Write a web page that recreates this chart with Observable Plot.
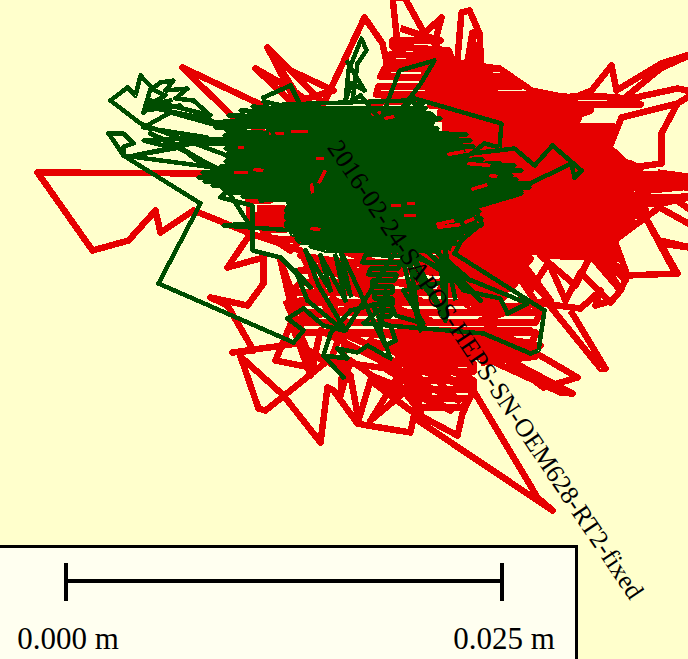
<!DOCTYPE html>
<html><head><meta charset="utf-8">
<script src="https://cdn.jsdelivr.net/npm/d3@7"></script>
<script src="https://cdn.jsdelivr.net/npm/@observablehq/plot@0.6"></script>
<style>html,body{margin:0;padding:0;background:#ffffcc;overflow:hidden}svg{display:block}</style>
</head><body><div id="chart"></div>
<script>
// Track positions in plot units (17440 units = 1 metre)
const redSpikes=[[210,173],[37,172],[92,250],[128,240],[155,210],[160,232],[193,210],[250,233],[227,267],[263,257],[263,283],[247,305],[210,297],[227,305],[253,350],[232,352],[297,343],[325,362],[265,410],[258,408],[240,356],[283,395],[320,442],[327,387],[333,390],[357,423],[367,425],[410,432],[413,417],[552,510],[537,497],[473,390],[462,413],[457,435],[410,410],[370,380],[358,420],[350,375],[300,345],[280,260],[297,307],[330,280],[340,340],[300,250],[250,233],[248,200],[270,200],[300,150],[233,117],[182,67],[258,103],[300,130],[320,100],[267,47],[300,100],[333,90],[290,70],[267,47],[300,110],[255,68],[290,88],[320,110],[364,17],[382,43],[388,70],[397,43],[392,-3],[404,-3],[424,33],[441,17],[434,43],[456,70],[461,12],[469,10],[479,33],[481,70],[475,70],[472,32],[465,72],[499,68],[531,90],[571,98],[591,90],[611,65],[616,90],[661,63],[695,52],[660,68],[621,100],[677,88],[695,92],[677,103],[661,133],[661,163],[631,167],[609,147],[621,117],[677,103]];
const redEast=[[657,172],[695,177],[695,183],[640,178],[695,189],[695,195],[672,197],[695,213],[695,227],[659,207],[645,217],[614,240],[627,275],[677,273],[645,217],[675,273],[659,240],[695,248],[660,243]];
const redTop=[[400,28],[425,36],[440,40],[392,40],[392,46],[448,50],[450,56],[390,54],[386,62],[456,62],[495,68],[384,68],[380,76],[515,80],[520,86],[378,86],[376,94],[545,94],[370,102],[420,100]];
const redUpper=[[420,74],[505,76],[520,84],[425,84],[430,91],[565,96],[575,102],[430,98],[420,99],[600,96],[625,98],[640,104],[430,105],[590,110],[582,113],[440,112],[440,118],[578,118],[575,122],[445,124],[445,128],[612,126],[612,132],[450,132],[450,138],[610,138],[609,145],[450,144],[455,150],[615,152],[620,158],[460,156],[465,162],[630,163],[640,168],[470,168],[470,174],[655,174],[688,180],[470,180],[475,186],[688,186],[634,191],[480,192],[480,198],[688,197],[660,203],[480,204],[480,210],[645,209],[640,215],[470,216],[470,222],[632,221],[625,227],[465,228],[465,234],[618,233],[614,239],[460,240],[455,246],[613,245],[616,251],[450,252],[448,258],[530,258],[525,264],[445,264],[445,270],[520,270],[518,276],[445,276],[440,282],[515,282],[510,288],[440,288],[445,294],[505,294],[500,300],[460,300],[470,306],[520,306]];
const redSouthEast=[[520,250],[616,250],[618,258],[540,255],[575,285],[590,255],[620,290],[600,255],[625,280],[612,262],[627,275],[620,290],[610,302],[580,272],[565,300],[548,262],[530,290],[522,262],[550,300],[508,262],[540,308],[520,300],[580,308],[600,290],[595,305],[612,300]];
const redSquare=[[256,208],[283,208],[283,215],[256,215],[256,222],[283,222],[285,229],[262,229],[270,238],[300,240],[290,250],[275,240]];
const redBlock=[[405,335],[473,335],[473,342],[400,342],[400,349],[473,349],[473,356],[398,356],[395,363],[473,363],[473,371],[395,371],[400,380],[473,380],[473,389],[405,389],[412,398],[468,398],[462,407],[418,407]];
const redMid=[[345,250],[470,250],[470,262],[350,262],[300,270],[470,272],[470,282],[300,282],[290,292],[465,292],[465,302],[292,302],[300,312],[540,312],[535,322],[300,322],[300,332],[535,332],[532,342],[340,332],[370,345],[525,352],[470,345],[470,356],[535,356],[480,362]];
const redLower=[[570,310],[605,368],[600,368],[545,300],[480,320],[577,377],[543,387],[500,355],[572,393],[560,392],[490,360],[470,350],[540,345],[470,340],[530,330],[440,330],[470,356],[400,325],[473,366],[395,335],[470,378],[370,340],[470,388],[365,350],[400,345],[458,400],[380,365],[450,410],[370,375],[430,398],[410,360],[420,412],[395,380],[370,420],[400,395],[350,360],[340,395],[345,320],[330,360],[400,370],[320,330],[310,375],[290,320],[340,310],[400,310],[330,300],[430,320],[320,280],[420,300],[310,265],[410,285],[300,255],[400,270],[310,240],[450,260],[300,300],[275,360],[315,368],[285,300]];
const greenOuter=[[240,160],[140,123],[110,100],[127,87],[135,95],[140,75],[152,88],[160,82],[173,80],[165,90],[187,88],[175,98],[193,100],[210,115],[150,100],[143,112],[150,88],[165,95],[147,105],[170,100],[145,110],[180,105],[155,108],[205,118],[235,130],[170,112],[143,127],[207,137],[143,140],[163,145],[207,140],[133,155],[180,147],[200,163],[225,172],[150,133],[173,143],[213,167],[123,155],[113,140],[108,133],[123,133],[133,143],[123,146],[123,155],[200,203],[158,283],[293,342],[303,330],[287,318],[303,308],[323,325],[343,330],[307,300],[295,270],[310,287],[280,257],[252,250],[252,205],[220,197],[227,190],[248,223],[223,225],[293,230],[290,200],[263,97],[290,85],[300,105],[320,125]];
const greenEast=[[346,60],[364,90],[351,83],[345,100],[348,70],[361,38],[366,50],[357,63],[352,100],[360,95],[380,120],[399,70],[434,60],[421,82],[400,110],[414,98],[501,123],[499,147],[484,143],[471,153],[514,148],[534,165],[552,145],[581,170],[574,177],[571,163],[521,187],[480,200],[521,193],[474,207],[481,223],[461,240],[454,253],[544,310],[538,350],[530,353],[483,333],[363,323],[390,300],[350,310],[330,333],[323,355],[343,377],[323,355],[347,358],[337,348],[357,352],[367,345],[390,358],[380,330],[385,290],[395,315],[423,323],[403,290],[464,277],[527,303],[507,313],[500,298],[463,290],[440,260],[445,320]];
const greenCore=[[282,104],[408,100],[425,108],[270,108],[262,113],[430,113],[436,118],[268,118],[270,122],[432,122],[430,126],[270,126],[268,130],[434,130],[440,134],[265,134],[262,138],[445,138],[448,142],[265,142],[268,146],[450,146],[448,150],[270,150],[270,154],[450,154],[455,158],[268,158],[265,162],[460,162],[470,166],[262,166],[258,170],[475,170],[475,174],[255,174],[258,178],[478,178],[480,182],[262,182],[268,186],[480,186],[478,190],[272,190],[278,194],[475,194],[470,198],[285,198],[288,202],[465,202],[468,206],[288,206],[286,210],[470,210],[472,214],[286,214],[286,218],[474,218],[474,222],[286,222],[286,226],[472,226],[466,230],[290,230],[292,234],[458,234],[454,238],[296,238],[300,242],[448,242],[446,246],[310,246],[325,250],[440,250]];
const greenFanWest=[[300,118],[205,122],[290,126],[215,127],[290,122],[228,115],[295,116],[240,110],[300,112],[252,106],[305,110],[263,101],[310,112],[226,130],[290,134],[224,135],[290,138],[210,139],[290,142],[205,143],[290,146],[225,148],[290,150],[228,152],[290,154],[226,156],[290,158],[225,161],[290,162],[220,166],[290,166],[212,169],[290,170],[202,172],[290,174],[198,177],[290,178],[204,181],[290,182],[212,185],[290,186],[222,188],[290,190],[228,192],[295,194],[242,196],[300,198],[258,200]];
const greenFanEast=[[405,112],[424,101],[410,116],[440,118],[415,124],[437,128],[420,132],[466,134],[425,138],[470,140],[430,144],[473,146],[430,150],[463,151],[435,156],[468,155],[440,160],[482,159],[440,164],[500,163],[445,166],[514,165],[445,170],[521,170],[445,174],[511,175],[450,178],[516,179],[450,182],[531,183],[450,186],[529,187],[450,190],[521,191],[450,194],[506,196],[445,198],[490,200],[445,204],[476,204],[445,210],[479,211],[445,216],[481,218],[445,222],[481,225],[440,228],[471,231],[440,234],[463,237],[435,240],[456,243],[430,246],[451,248]];
const greenSouth=[[375,250],[405,250],[405,256],[365,254],[362,262],[400,262],[398,268],[370,268],[368,274],[396,274],[394,280],[372,280],[372,286],[392,286],[392,292],[374,292],[374,298],[392,298],[392,304],[372,304],[375,310],[392,310],[390,316],[378,316],[380,322],[390,325],[395,340],[385,345],[375,325],[340,250],[350,295],[335,255],[345,300],[320,255],[330,290],[305,250],[318,285],[345,330],[397,248],[443,313],[410,250],[470,290],[425,250],[480,300],[435,250],[470,280],[400,250],[420,330],[408,250],[445,320],[445,250],[455,300]];
const redFlecks=[[[268,133],[283,133]],[[290,131],[307,131]],[[315,158],[323,158]],[[325,170],[318,183]],[[311,183],[312,193]],[[233,172],[247,172]],[[253,169],[263,170]],[[237,147],[243,147]],[[447,154],[464,151]],[[467,163],[490,165]],[[489,175],[497,176]],[[471,189],[487,184]],[[436,224],[454,220]],[[464,222],[474,218]],[[406,203],[414,203]],[[371,114],[381,112]],[[384,118],[394,116]],[[403,215],[415,215]],[[437,227],[460,224]],[[390,205],[400,205]],[[310,228],[320,229]]];
// Scale bar, in metres
const scaleStart=0, scaleEnd=0.025;
const unitsPerMetre=17440, barOrigin=65.5;
const label="2016-02-24-SAPOS-HEPS-SN-OEM628-RT2-fixed";
const bx=m=>barOrigin+m*unitsPerMetre;
const red="#e60000",green="#004d00";
const line=(a,c,w)=>Plot.line(a,{x:d=>d[0],y:d=>d[1],stroke:c,strokeWidth:w,strokeLinejoin:"round",strokeLinecap:"butt",shapeRendering:"crispEdges"});
const plot=Plot.plot({width:688,height:659,margin:0,
 x:{domain:[0,688],range:[0,688],axis:null},y:{domain:[0,659],range:[0,659],axis:null},
 style:{background:"#ffffcc"},
 marks:[
  line(redSpikes,red,6.5),line(redEast,red,6.5),line(redTop,red,7),line(redUpper,red,7),line(redSouthEast,red,6.5),line(redSquare,red,7),line(redMid,red,7),line(redBlock,red,6.5),line(redLower,red,6.5),
  line(greenCore,green,4.5),line(greenFanWest,green,4.5),line(greenFanEast,green,4.5),line(greenSouth,green,4.5),
  ...redFlecks.map(f=>line(f,red,3.5)),
  line(greenOuter,green,4.5),line(greenEast,green,4.5),
  Plot.text([label],{x:()=>326,y:()=>147,text:d=>d,rotate:56.2,textAnchor:"start",lineAnchor:"bottom",fontFamily:"Liberation Serif",fontSize:26,fill:"#000"}),
  Plot.rect([0],{x1:()=>-3,x2:()=>576.5,y1:()=>546.5,y2:()=>665,fill:"#fffff0",stroke:"#000",strokeWidth:3,shapeRendering:"crispEdges"}),
  Plot.ruleY([580.5],{x1:()=>bx(scaleStart),x2:()=>bx(scaleEnd),stroke:"#000",strokeWidth:4,shapeRendering:"crispEdges"}),
  Plot.ruleX([scaleStart,scaleEnd],{x:bx,y1:()=>563,y2:()=>601,stroke:"#000",strokeWidth:4,shapeRendering:"crispEdges"}),
  Plot.text([scaleStart,scaleEnd],{x:d=>bx(d)+2,y:()=>648,text:d=>d.toFixed(3)+" m",lineAnchor:"bottom",fontFamily:"Liberation Serif",fontSize:31,fill:"#000"})
 ]});
document.getElementById("chart").append(plot);
</script></body></html>
